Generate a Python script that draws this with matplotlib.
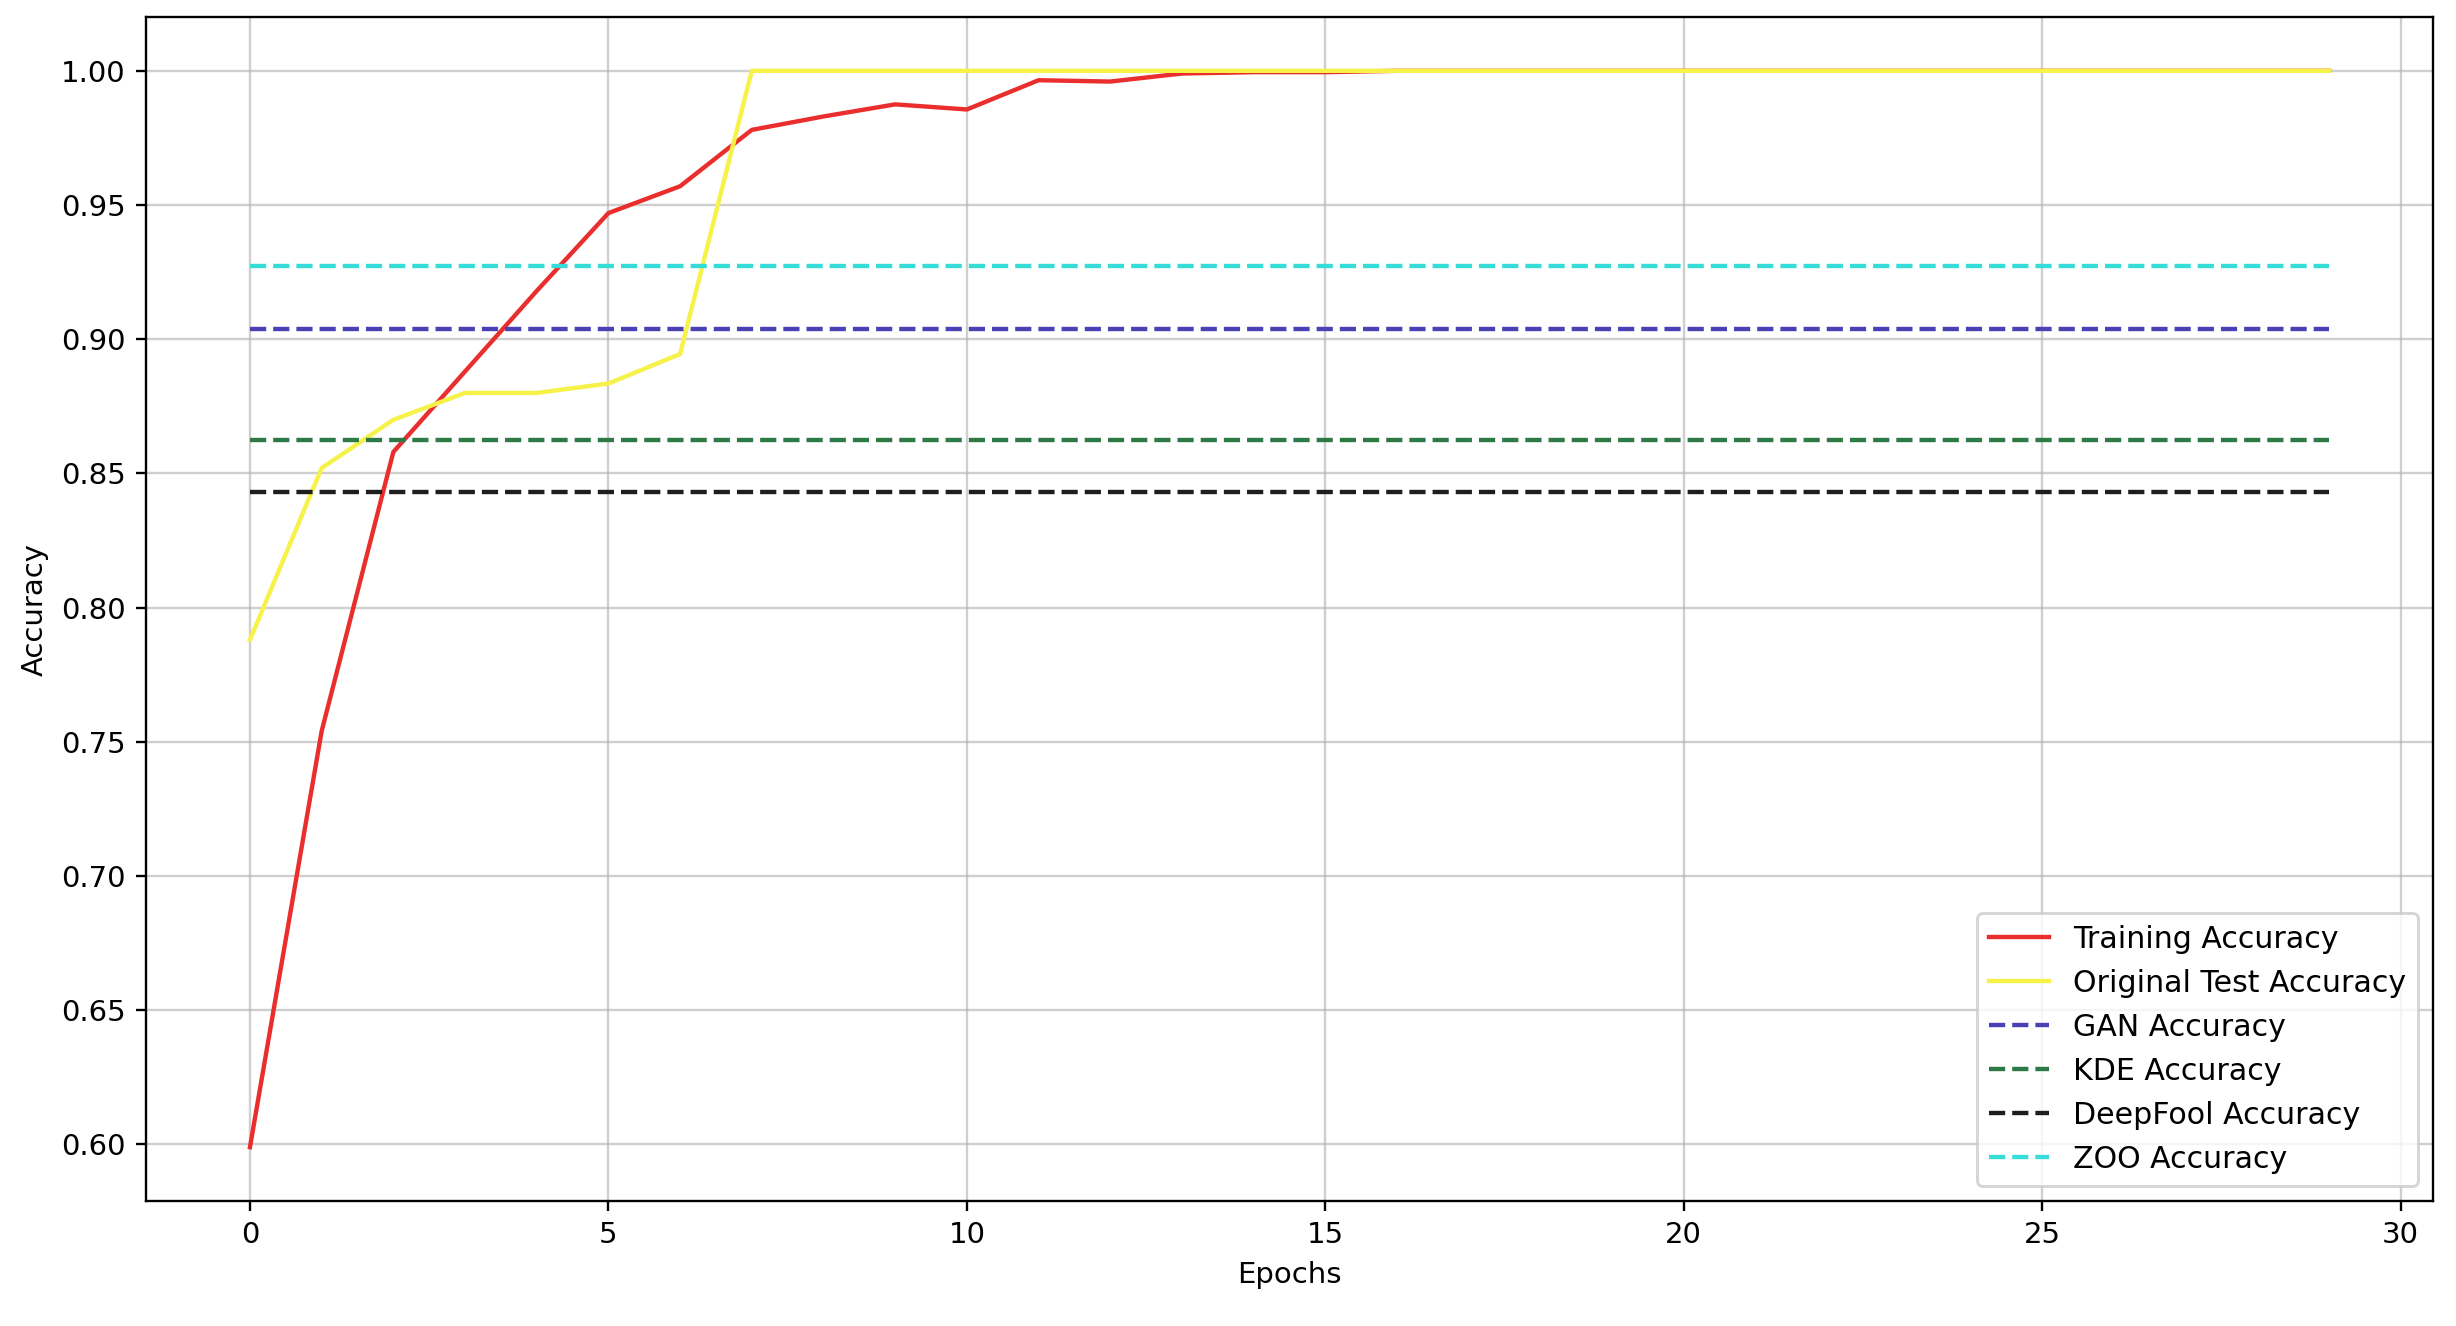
import matplotlib
matplotlib.use("Agg")
import matplotlib.pyplot as plt

epochs = list(range(30))
training_acc = [0.599, 0.754, 0.858, 0.888, 0.918, 0.947, 0.957, 0.978, 0.983, 0.9875,
                0.9856, 0.9965, 0.996, 0.999, 0.9995, 0.9995, 1.0, 1.0, 1.0, 1.0,
                1.0, 1.0, 1.0, 1.0, 1.0, 1.0, 1.0, 1.0, 1.0, 1.0]
test_acc = [0.788, 0.852, 0.870, 0.880, 0.880, 0.8835, 0.8945, 1.0, 1.0, 1.0,
            1.0, 1.0, 1.0, 1.0, 1.0, 1.0, 1.0, 1.0, 1.0, 1.0,
            1.0, 1.0, 1.0, 1.0, 1.0, 1.0, 1.0, 1.0, 1.0, 1.0]
gan_acc = 0.904
kde_acc = 0.8623
deepfool_acc = 0.8432
zoo_acc = 0.9274

DPI = 210
fig = plt.figure(figsize=(2456/DPI, 1326/DPI), dpi=DPI)
ax = fig.add_axes([146/2456, 1 - 1201/1326, (2433-146)/2456, (1201-17)/1326])

ax.plot(epochs, training_acc, color='#ea2e2e', label='Training Accuracy')
ax.plot(epochs, test_acc, color='#f6f24a', label='Original Test Accuracy')
ax.plot(epochs, [gan_acc]*len(epochs), '--', color='#4a42b4', label='GAN Accuracy')
ax.plot(epochs, [kde_acc]*len(epochs), '--', color='#2e7a46', label='KDE Accuracy')
ax.plot(epochs, [deepfool_acc]*len(epochs), '--', color='#1e1e1e', label='DeepFool Accuracy')
ax.plot(epochs, [zoo_acc]*len(epochs), '--', color='#36dcd8', label='ZOO Accuracy')

ax.set_xlabel('Epochs')
ax.set_ylabel('Accuracy')
ax.grid(True, color='#b0b0b0', alpha=0.6)
ax.legend(loc='lower right', fontsize=10.3)

fig.savefig('out.png', dpi=DPI)
